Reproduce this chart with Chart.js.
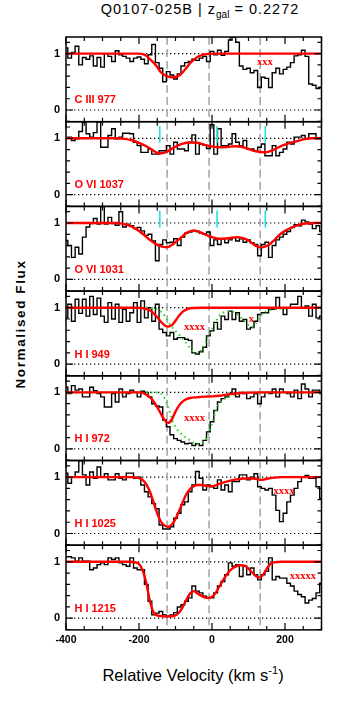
<!DOCTYPE html>
<html>
<head>
<meta charset="utf-8">
<script src="https://cdn.jsdelivr.net/npm/chart.js@4.4.1/dist/chart.umd.min.js"></script>
<style>
  body { margin: 0; background: #fff; }
  #wrap { position: relative; width: 349px; height: 703px; overflow: hidden; background: #fff; }
  #wrap canvas { position: absolute; left: 0; }
  #title { position: absolute; left: 0; width: 400px; top: 1px; text-align: center;
           font: 14.5px "Liberation Sans", sans-serif; letter-spacing: 1px; color: #000; }
  #title sub { font-size: 10px; letter-spacing: 0; }
  #ylab { position: absolute; left: 20px; top: 324px; transform: translate(-50%, -50%) rotate(-90deg);
          white-space: nowrap; font: bold 13.5px "Liberation Sans", sans-serif; letter-spacing: 1.6px; color: #000; }
  #xlab { position: absolute; left: 193px; top: 664px; transform: translateX(-50%); white-space: nowrap;
          font: 16.5px "Liberation Sans", sans-serif; color: #000; }
  #xlab sup { font-size: 11px; }
</style>
</head>
<body>
<div id="wrap">
  <div id="title">Q0107-025B | z<sub>gal</sub> = 0.2272</div>
  <div id="ylab">Normalised Flux</div>
  <div id="xlab">Relative Velocity (km s<sup>-1</sup>)</div>
</div>
<script>
// velocity bins (km/s)
const vel = [-400,-390,-380,-370,-360,-350,-340,-330,-320,-310,
  -300,-290,-280,-270,-260,-250,-240,-230,-220,-210,
  -200,-190,-180,-170,-160,-150,-140,-130,-120,-110,
  -100,-90,-80,-70,-60,-50,-40,-30,-20,-10,
  0,10,20,30,40,50,60,70,80,90,
  100,110,120,130,140,150,160,170,180,190,
  200,210,220,230,240,250,260,270,280,290,
  300];

const panelNames = ['C III 977', 'O VI 1037', 'O VI 1031', 'H I 949', 'H I 972', 'H I 1025', 'H I 1215'];

// observed normalised flux per line
const fluxCIII977 = [1.10,0.92,1.02,1.13,0.80,0.93,0.90,0.96,0.78,0.93,
  0.76,1.00,0.95,0.86,1.05,0.98,0.95,0.92,0.86,0.92,
  0.94,0.90,0.82,0.98,1.16,0.84,0.74,0.50,0.68,0.62,
  0.55,0.64,0.78,0.84,0.86,0.90,0.88,0.92,0.95,0.86,
  1.04,0.98,1.06,0.97,1.04,1.24,1.29,1.20,0.78,0.72,
  0.74,0.66,0.70,0.40,0.58,0.56,0.40,0.66,0.74,0.64,
  0.72,0.76,0.84,0.96,0.98,1.06,0.95,0.46,0.44,0.38,
  0.40];
const fluxOVI1037 = [1.00,1.02,0.96,0.99,1.12,1.29,1.08,1.02,1.10,1.29,
  0.84,0.84,1.05,1.17,0.99,1.02,1.09,1.09,1.08,0.93,
  0.87,0.75,0.75,0.81,0.72,0.72,0.78,0.78,0.87,0.72,
  0.93,0.81,0.81,0.78,0.93,1.06,0.72,0.90,0.88,0.82,
  1.24,0.72,1.17,0.87,0.87,0.90,1.08,0.93,0.87,0.96,
  0.81,0.81,0.78,0.84,0.90,0.69,0.69,0.87,0.69,0.75,
  0.81,0.93,0.90,1.02,1.02,1.05,0.99,1.08,1.08,0.99,
  0.99];
const fluxOVI1031 = [0.69,0.60,0.39,0.57,0.45,0.75,0.93,0.99,1.08,0.98,
  1.29,0.98,1.10,0.99,0.96,1.20,0.93,0.98,0.95,0.90,
  0.92,0.86,0.78,0.80,0.68,0.33,0.62,0.70,0.65,0.66,
  0.72,0.60,0.75,0.82,0.84,0.86,0.85,0.82,0.80,0.84,
  0.60,0.70,0.62,0.72,0.65,0.70,0.74,0.68,0.72,0.66,
  0.70,0.65,0.62,0.42,0.62,0.66,0.39,0.60,0.70,0.75,
  0.80,0.85,0.92,0.97,0.95,1.05,1.02,0.98,0.90,0.95,
  0.85];
const fluxHI949 = [0.82,1.06,0.76,1.15,0.90,1.15,0.85,1.20,0.88,1.17,
  0.85,0.74,1.09,0.80,1.06,0.74,0.97,0.76,0.91,1.09,
  0.74,1.12,0.82,1.00,0.76,1.06,0.62,0.56,0.50,0.56,
  0.44,0.47,0.47,0.44,0.42,0.20,0.18,0.22,0.30,0.50,
  0.59,0.74,0.62,0.85,0.79,0.94,0.79,0.91,0.76,0.79,
  0.62,0.65,0.76,0.88,0.91,0.91,0.97,0.97,1.18,1.00,
  0.88,1.00,1.06,1.06,1.20,1.00,1.03,0.85,1.06,0.82,
  0.85];
const fluxHI972 = [1.09,0.98,1.12,1.04,1.06,0.92,0.92,1.09,1.03,0.98,
  0.92,0.74,0.74,0.98,0.83,1.06,0.92,0.98,1.04,1.00,
  0.92,1.02,1.00,0.92,0.80,0.76,0.74,0.51,0.39,0.25,
  0.18,0.15,0.12,0.09,0.10,0.06,0.09,0.06,0.15,0.30,
  0.48,0.68,0.83,0.89,0.92,0.98,1.06,0.92,1.00,0.98,
  0.89,0.92,0.98,0.80,0.92,1.00,0.98,1.06,0.92,1.06,
  1.00,0.98,0.92,1.04,0.89,1.15,1.06,0.92,1.04,1.04,
  0.98];
const fluxHI1025 = [1.07,0.89,1.00,1.09,1.29,1.04,0.86,1.09,0.98,1.18,
  1.00,1.06,0.95,0.95,1.06,0.98,0.95,1.07,1.07,0.98,
  1.00,0.86,0.74,0.65,0.53,0.44,0.15,0.08,0.08,0.12,
  0.27,0.36,0.51,0.56,0.74,0.86,1.10,0.98,0.77,0.86,
  0.83,0.80,0.95,0.77,0.86,0.74,0.92,0.92,1.04,1.04,
  0.95,1.00,1.06,0.83,0.80,0.77,0.80,0.68,0.41,0.21,
  0.36,0.56,0.68,0.80,0.92,1.00,1.03,0.98,0.98,0.83,
  0.62];
const fluxHI1215 = [1.09,1.09,1.07,1.01,1.07,1.01,1.01,0.86,0.89,0.95,
  0.98,0.95,1.07,1.04,1.07,0.98,0.95,0.92,1.07,0.89,
  0.86,0.86,0.60,0.30,0.06,0.09,0.12,0.06,0.04,0.06,
  0.10,0.20,0.24,0.30,0.36,0.57,0.48,0.45,0.39,0.36,
  0.36,0.45,0.57,0.65,0.77,0.98,0.92,0.95,0.74,0.92,
  0.77,0.89,0.77,0.68,0.77,0.83,1.07,0.68,0.74,0.71,
  0.71,0.62,0.57,0.48,0.42,0.38,0.27,0.32,0.35,0.45,
  0.62];

// fitted profiles [velocity, flux]
const fitCIII977 = [[-400,1],[-200,1],[-190,0.99],[-180,0.96],[-170,0.9],[-160,0.84],[-150,0.76],[-140,0.67],
  [-130,0.62],[-120,0.59],[-110,0.58],[-100,0.585],[-90,0.61],[-80,0.67],[-70,0.75],[-60,0.83],[-50,0.89],
  [-40,0.94],[-30,0.97],[-20,0.985],[-10,0.995],[10,1],[300,1]];
const fitOVI1037 = [[-400,1],[-260,1],[-240,0.99],[-220,0.965],[-200,0.92],[-180,0.86],[-160,0.78],[-146,0.73],
  [-130,0.745],[-119,0.78],[-100,0.85],[-82,0.9],[-60,0.925],[-40,0.92],[-18,0.88],[0,0.855],[18,0.84],
  [40,0.845],[64,0.86],[80,0.85],[100,0.81],[120,0.77],[146,0.75],[170,0.8],[192,0.87],[210,0.91],
  [228,0.94],[250,0.98],[274,1],[300,1]];
const fitOVI1031 = [[-400,1],[-260,1],[-247,0.99],[-230,0.96],[-210,0.9],[-190,0.81],[-174,0.72],[-155,0.63],
  [-137,0.58],[-123,0.57],[-110,0.61],[-100,0.66],[-85,0.74],[-73,0.81],[-60,0.85],[-50,0.87],[-38,0.85],
  [-27,0.82],[-10,0.77],[0,0.75],[18,0.72],[46,0.73],[68,0.75],[85,0.73],[100,0.69],[119,0.6],[137,0.57],
  [155,0.61],[170,0.69],[183,0.78],[200,0.86],[219,0.92],[240,0.97],[256,0.99],[280,1],[300,1]];
const fitHI949 = [[-400,1],[-200,1],[-190,0.99],[-180,0.975],[-170,0.95],[-160,0.9],[-150,0.83],[-140,0.75],
  [-130,0.69],[-120,0.665],[-110,0.69],[-100,0.77],[-90,0.86],[-80,0.93],[-70,0.97],[-60,0.99],[-50,0.995],
  [-30,1],[300,1]];
const fitHI972 = [[-400,1],[-200,1],[-190,0.99],[-180,0.96],[-170,0.91],[-160,0.84],[-150,0.74],[-140,0.62],
  [-130,0.51],[-120,0.46],[-110,0.52],[-100,0.66],[-90,0.77],[-80,0.84],[-70,0.88],[-60,0.9],[-40,0.915],
  [-20,0.925],[0,0.93],[20,0.94],[40,0.96],[60,0.975],[80,0.99],[100,0.995],[130,1],[300,1]];
const fitHI1025 = [[-400,1],[-220,1],[-200,0.98],[-190,0.95],[-180,0.87],[-170,0.74],[-160,0.55],[-150,0.36],
  [-140,0.21],[-130,0.14],[-120,0.12],[-110,0.16],[-100,0.26],[-90,0.4],[-80,0.56],[-70,0.7],[-60,0.79],
  [-50,0.84],[-40,0.86],[-30,0.86],[-20,0.85],[-10,0.84],[0,0.84],[20,0.88],[40,0.92],[60,0.95],[80,0.97],
  [100,0.98],[120,0.97],[135,0.95],[150,0.97],[170,0.99],[190,1],[300,1]];
const fitHI1215 = [[-400,1],[-230,1],[-210,0.99],[-200,0.96],[-190,0.85],[-180,0.62],[-170,0.3],[-160,0.1],
  [-150,0.05],[-140,0.04],[-120,0.03],[-100,0.05],[-90,0.1],[-80,0.2],[-70,0.33],[-60,0.44],[-50,0.48],
  [-40,0.44],[-30,0.4],[-20,0.37],[-10,0.36],[0,0.38],[10,0.45],[20,0.56],[30,0.67],[40,0.77],[50,0.85],
  [60,0.9],[70,0.93],[80,0.94],[90,0.93],[100,0.88],[110,0.81],[120,0.75],[130,0.72],[140,0.77],[150,0.88],
  [160,0.96],[170,0.99],[190,1],[300,1]];

// alternative (dotted green) profiles for the Lyman lines
const altHI949 = [[-400,1],[-180,1],[-160,0.99],[-150,0.97],[-140,0.93],[-130,0.86],[-120,0.75],[-110,0.66],
  [-100,0.59],[-90,0.52],[-80,0.45],[-70,0.37],[-60,0.28],[-50,0.22],[-40,0.2],[-30,0.24],[-20,0.35],
  [-10,0.5],[0,0.62],[10,0.75],[20,0.86],[30,0.91],[40,0.93],[50,0.94],[60,0.92],[70,0.88],[80,0.82],
  [90,0.75],[100,0.69],[110,0.66],[120,0.72],[130,0.83],[140,0.9],[150,0.94],[170,0.97],[200,0.99],
  [230,1],[300,1]];
const altHI972 = [[-400,1],[-150,1],[-140,0.98],[-130,0.9],[-120,0.74],[-110,0.53],[-100,0.39],[-90,0.3],
  [-80,0.24],[-70,0.19],[-60,0.15],[-50,0.11],[-40,0.09],[-30,0.1],[-20,0.14],[-10,0.26],[0,0.45],
  [10,0.66],[20,0.8],[30,0.87],[40,0.91],[60,0.95],[80,0.98],[100,1],[300,1]];

// component velocities (grey dashed) and O VI markers (cyan)
const componentVel = [-123, -8, 132];
const oviMarkVel = [-143, 14, 146];
const oviMarkRange = [0.92, 1.22];

// blend flags
const blendMarks = [
  [['xxx', 145, 0.85]],
  [], [],
  [['xxxx', -48, 0.65], ['x', 108, 0.79]],
  [['xxxx', -48, 0.55]],
  [['xxxx', 197, 0.74]],
  [['xxxxx', 249, 0.74]]
];

const xTickLabels = [-400, -200, 0, 200];
const yTickLabels = [0, 1];

const fluxes = [fluxCIII977, fluxOVI1037, fluxOVI1031, fluxHI949, fluxHI972, fluxHI1025, fluxHI1215];
const fits = [fitCIII977, fitOVI1037, fitOVI1031, fitHI949, fitHI972, fitHI1025, fitHI1215];
const alts = [null, null, null, altHI949, altHI972, null, null];

const CANVAS_W = 330;
const PANEL_TOP = 37, PANEL_H = 84.7, PLOT_LEFT = 66, PLOT_RIGHT = 321.5;
const MARGIN = 4, LABEL_H = 22;

const toXY = pairs => pairs.map(p => ({ x: p[0], y: p[1] }));

function makePanel(i) {
  const top = PANEL_TOP + i * PANEL_H;
  const last = i === panelNames.length - 1;
  const cTop = Math.floor(top) - MARGIN;
  const cH = Math.ceil(PANEL_H) + 2 * MARGIN + (last ? LABEL_H : 0);
  const padTop = top - cTop;
  const padBottom = cH - padTop - PANEL_H;

  const canvas = document.createElement('canvas');
  canvas.width = CANVAS_W; canvas.height = cH;
  canvas.style.top = cTop + 'px';
  document.getElementById('wrap').appendChild(canvas);

  const datasets = [{
    data: vel.map((v, k) => ({ x: v, y: fluxes[i][k] })),
    stepped: 'middle', borderColor: '#000', borderWidth: 1.4, pointRadius: 0, order: 3
  }];
  if (alts[i]) datasets.push({
    data: toXY(alts[i]), borderColor: '#22d822', borderWidth: 2, borderDash: [1.5, 3.5],
    pointRadius: 0, cubicInterpolationMode: 'monotone', order: 2
  });
  datasets.push({
    data: toXY(fits[i]), borderColor: '#ff0000', borderWidth: 2.4, pointRadius: 0,
    cubicInterpolationMode: 'monotone', order: 1
  });
  if (i === 1 || i === 2) {
    const pts = [];
    oviMarkVel.forEach(v => {
      pts.push({ x: v, y: oviMarkRange[0] }, { x: v, y: oviMarkRange[1] }, { x: v, y: null });
    });
    datasets.push({ data: pts, borderColor: '#20e0e8', borderWidth: 1.6, pointRadius: 0, spanGaps: false, order: 0 });
  }

  const decor = {
    id: 'decor' + i,
    beforeDatasetsDraw(chart) {
      const { ctx, chartArea: a, scales: { x, y } } = chart;
      ctx.save();
      ctx.strokeStyle = '#000'; ctx.lineWidth = 1.2; ctx.setLineDash([1.3, 2.7]);
      yTickLabels.forEach(lv => {
        const py = y.getPixelForValue(lv);
        ctx.beginPath(); ctx.moveTo(a.left, py); ctx.lineTo(a.right, py); ctx.stroke();
      });
      ctx.strokeStyle = '#a8a8a8'; ctx.lineWidth = 1.6; ctx.setLineDash([8, 4]);
      componentVel.forEach(v => {
        const px = x.getPixelForValue(v);
        ctx.beginPath(); ctx.moveTo(px, a.top); ctx.lineTo(px, a.bottom); ctx.stroke();
      });
      ctx.restore();
    },
    afterDatasetsDraw(chart) {
      const { ctx, chartArea: a, scales: { x, y } } = chart;
      ctx.save();
      ctx.strokeStyle = '#000'; ctx.lineWidth = 1.5; ctx.setLineDash([]);
      ctx.strokeRect(a.left, a.top, a.right - a.left, a.bottom - a.top);
      ctx.lineWidth = 1.2;
      ctx.beginPath();
      for (let v = -400; v <= 300; v += 50) {
        const px = x.getPixelForValue(v);
        const len = v % 200 === 0 ? 7 : 4;
        ctx.moveTo(px, a.bottom); ctx.lineTo(px, a.bottom - len);
        ctx.moveTo(px, a.top); ctx.lineTo(px, a.top + len);
      }
      for (let k = -1; k <= 6; k++) {
        const py = y.getPixelForValue(k * 0.2);
        const len = (k === 0 || k === 5) ? 7 : 4;
        ctx.moveTo(a.left, py); ctx.lineTo(a.left + len, py);
        ctx.moveTo(a.right, py); ctx.lineTo(a.right - len, py);
      }
      ctx.stroke();
      // flux tick labels
      ctx.fillStyle = '#000';
      ctx.font = 'bold 11px "Liberation Sans", sans-serif';
      ctx.textAlign = 'right'; ctx.textBaseline = 'middle';
      yTickLabels.forEach(v => ctx.fillText(String(v), a.left - 6, y.getPixelForValue(v)));
      // velocity tick labels under the bottom panel
      if (last) {
        ctx.font = 'bold 10.5px "Liberation Sans", sans-serif';
        ctx.textAlign = 'center'; ctx.textBaseline = 'top';
        xTickLabels.forEach(v => ctx.fillText(String(v), x.getPixelForValue(v), a.bottom + 5));
      }
      ctx.fillStyle = '#ff0000';
      ctx.font = 'bold 11px "Liberation Sans", sans-serif';
      ctx.textAlign = 'left'; ctx.textBaseline = 'middle';
      ctx.fillText(panelNames[i], x.getPixelForValue(-377), y.getPixelForValue(0.17));
      ctx.font = 'bold 10.5px "Liberation Serif", serif';
      ctx.textAlign = 'center';
      blendMarks[i].forEach(m => ctx.fillText(m[0], x.getPixelForValue(m[1]), y.getPixelForValue(m[2])));
      ctx.restore();
    }
  };

  new Chart(canvas, {
    type: 'line',
    data: { datasets },
    options: {
      responsive: false, animation: false, events: [],
      layout: { padding: { left: PLOT_LEFT, right: CANVAS_W - PLOT_RIGHT, top: padTop, bottom: padBottom } },
      plugins: { legend: { display: false }, tooltip: { enabled: false } },
      scales: {
        x: { type: 'linear', min: -400, max: 300, display: false },
        y: { type: 'linear', min: -0.207, max: 1.294, display: false }
      }
    },
    plugins: [decor]
  });
}

panelNames.forEach((n, i) => makePanel(i));
</script>
</body>
</html>
